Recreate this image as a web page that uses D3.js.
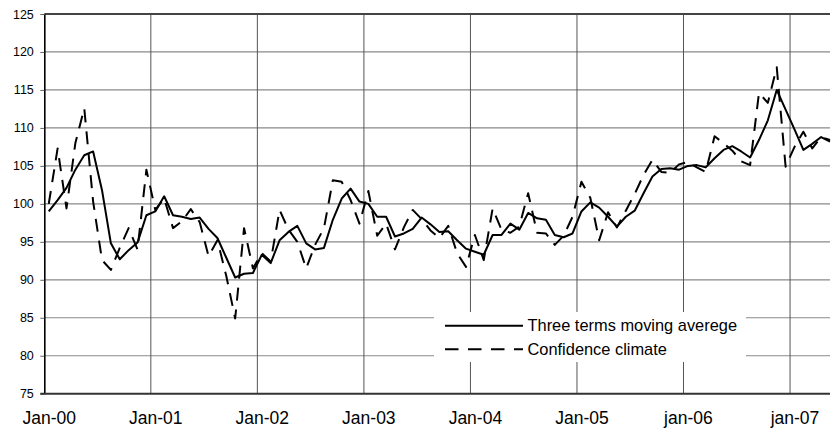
<!DOCTYPE html>
<html><head><meta charset="utf-8">
<script src="https://cdn.jsdelivr.net/npm/d3@7"></script>
<style>
body{margin:0;background:#fff}
svg{display:block}
text{font-family:"Liberation Sans",Arial,sans-serif;fill:#000}
</style>
</head><body>
<svg id="c" width="831" height="428"></svg>
<script>
const yearLabels = ["Jan-00","Jan-01","Jan-02","Jan-03","Jan-04","Jan-05","jan-06","jan-07"];
const yTicks = [75, 80, 85, 90, 95, 100, 105, 110, 115, 120, 125];
const seriesNames = ["Three terms moving averege", "Confidence climate"];

const confidence = [
  100.0, 107.3, 99.4, 108.0, 112.6, 100.3, 92.6, 91.3, 94.2, 96.8,
  94.0, 104.5, 99.2, 100.7, 96.8, 97.7, 99.3, 97.6, 93.1, 95.2,
  90.5, 84.9, 96.8, 91.5, 93.5, 92.4, 99.2, 96.6, 95.0, 91.5,
  94.6, 96.8, 103.1, 102.9, 100.5, 97.4, 101.7, 95.8, 97.4, 94.0,
  96.9, 99.2, 98.0, 96.5, 95.5, 97.1, 93.5, 91.7, 95.9, 92.6,
  99.4, 96.6, 96.2, 97.0, 101.4, 96.2, 96.1, 94.6, 95.8, 98.3,
  102.9, 100.8, 95.2, 98.9, 96.9, 99.1, 101.3, 103.8, 105.8, 104.2,
  104.1, 105.2, 105.5, 104.8, 104.2, 108.9, 108.0, 107.0, 105.6, 105.1,
  114.6, 113.3, 118.0, 104.9, 107.5, 109.5, 107.3, 108.8, 108.4
];
const movingAvg = [
  99.0, 100.5, 102.1, 104.5, 106.4, 106.9, 101.8, 94.8, 92.7, 93.9,
  94.9, 98.5, 99.0, 101.0, 98.5, 98.3, 98.0, 98.2, 96.7, 95.5,
  92.9, 90.3, 90.8, 90.9, 93.3, 92.2, 95.2, 96.3, 97.1, 94.8,
  94.0, 94.2, 97.9, 100.7, 102.0, 100.3, 100.0, 98.3, 98.3, 95.7,
  96.1, 96.7, 98.2, 97.3, 96.3, 96.4, 95.2, 94.1, 93.7, 93.3,
  95.9, 95.9, 97.4, 96.6, 98.8, 98.1, 97.9, 95.9, 95.6, 96.1,
  99.0, 100.2, 99.5, 98.3, 97.0, 98.3, 99.1, 101.4, 103.6, 104.6,
  104.7, 104.5, 105.0, 105.1, 104.8, 106.0, 107.1, 107.6, 106.9, 106.1,
  108.4, 111.0, 115.0, 112.4, 109.8, 107.1, 107.9, 108.8, 108.2
];
// monthly categories, Jan-2000 onwards
const months = d3.timeMonth.range(new Date(2000, 0, 1), new Date(2000, confidence.length, 1));

const svg = d3.select("#c");
const L = 44.3, R = 830, T = 14, B = 393.7;
const x = d3.scaleLinear().domain([0, months.length - 0.5]).range([L, R]);
const y = d3.scaleLinear().domain([75, 125]).range([B, T]);
const px = i => x(i + 0.5);

// horizontal gridlines
svg.append("g").selectAll("line").data(yTicks.filter(v => v > 75 && v < 125)).join("line")
  .attr("x1", L).attr("x2", R).attr("y1", d => y(d)).attr("y2", d => y(d))
  .attr("stroke", "#8a8a8a").attr("stroke-width", 1.2);

// vertical gridlines at each January
svg.append("g").selectAll("line").data(d3.range(1, yearLabels.length)).join("line")
  .attr("x1", k => x(12 * k)).attr("x2", k => x(12 * k)).attr("y1", T).attr("y2", B)
  .attr("stroke", "#555").attr("stroke-width", 1);

// top border
svg.append("line").attr("x1", L).attr("x2", R).attr("y1", T).attr("y2", T)
  .attr("stroke", "#444").attr("stroke-width", 2);

// y axis
const yAxis = svg.append("g").attr("transform", `translate(${L},0)`)
  .call(d3.axisLeft(y).tickValues(yTicks).tickSizeInner(4).tickSizeOuter(0).tickPadding(6.5).tickFormat(d3.format("d")));
yAxis.select(".domain").attr("stroke", "#000").attr("stroke-width", 1.6);
yAxis.selectAll(".tick line").attr("stroke", "#666");
yAxis.selectAll("text").attr("font-size", "12.5px").attr("font-family", "Liberation Sans, Arial, sans-serif");

// x axis
const xAxis = svg.append("g").attr("transform", `translate(0,${B})`)
  .call(d3.axisBottom(x).tickValues(yearLabels.map((d, k) => 12 * k + 0.5))
    .tickFormat((d, k) => yearLabels[k]).tickSize(0).tickSizeOuter(0));
xAxis.select(".domain").remove();
xAxis.selectAll("text").attr("font-size", "17.5px").attr("font-family", "Liberation Sans, Arial, sans-serif")
  .attr("dy", null).attr("y", 424 - B);

// bottom axis line
svg.append("line").attr("x1", L - 4).attr("x2", R).attr("y1", B).attr("y2", B)
  .attr("stroke", "#333").attr("stroke-width", 2);

// legend box (white, hides grid)
const lg = svg.append("g");
lg.append("rect").attr("x", 434).attr("y", 312).attr("width", 312).attr("height", 50).attr("fill", "#fff");

// series lines
const line = d3.line().x((d, i) => px(i)).y(d => y(d));
svg.append("path").datum(confidence).attr("d", line)
  .attr("fill", "none").attr("stroke", "#000").attr("stroke-width", 2)
  .attr("stroke-dasharray", "13,9").attr("stroke-linejoin", "round");
svg.append("path").datum(movingAvg).attr("d", line)
  .attr("fill", "none").attr("stroke", "#000").attr("stroke-width", 2)
  .attr("stroke-linejoin", "round");

// legend entries
const legendRows = [{name: seriesNames[0], dash: null, ly: 325.7, ty: 330.5},
                    {name: seriesNames[1], dash: "13.5,9.5", ly: 349.3, ty: 354.5}];
legendRows.forEach(r => {
  lg.append("line").attr("x1", 445).attr("x2", 523).attr("y1", r.ly).attr("y2", r.ly)
    .attr("stroke", "#000").attr("stroke-width", 2).attr("stroke-dasharray", r.dash);
  lg.append("text").attr("x", 527.5).attr("y", r.ty).attr("font-size", "16.4px").text(r.name);
});
</script>
</body></html>
